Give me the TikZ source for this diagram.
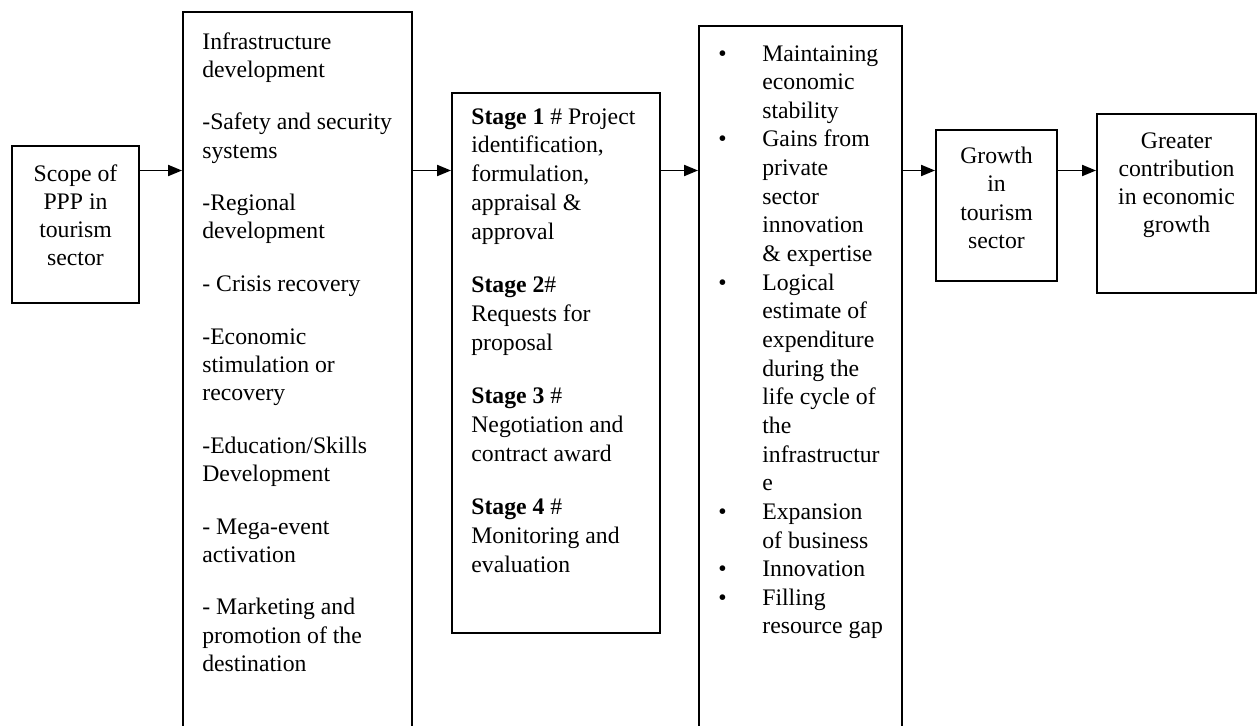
\documentclass[tikz,border=0pt]{standalone}
\usepackage{fontspec}
\setmainfont{Liberation Serif}
\usepackage{tikz}
\usetikzlibrary{arrows.meta}
\tikzstyle{frame}=[draw, line width=1.1pt, inner sep=0pt]
\tikzstyle{body}=[inner sep=0pt, font=\fontsize{13.5}{16}\selectfont, align=left]
\tikzstyle{cbody}=[body, align=center]
\tikzstyle{flow}=[line width=1.1pt, -{Triangle[length=0.28cm, width=0.22cm]}]
\newcommand{\blt}{\llap{\textbullet\hspace{0.715cm}}}

\begin{document}
\begin{tikzpicture}
        \useasboundingbox (0, 0) rectangle (25.2, -14.52);
        \clip (0, 0) rectangle (25.2, -14.52);
        \coordinate (lvl) at (0, -3.41);
        % boxes
        \node[frame, minimum width=2.54cm, minimum height=3.14cm] (scope) at (1.51, -4.49) {};
        \node[frame, minimum width=4.58cm, minimum height=14.96cm] (infra) at (5.95, -7.72) {};
        \node[frame, minimum width=4.16cm, minimum height=10.8cm] (stages) at (11.12, -7.26) {};
        \node[frame, minimum width=4.06cm, minimum height=14.68cm] (gains) at (16.01, -7.86) {};
        \node[frame, minimum width=2.42cm, minimum height=3.02cm] (growth) at (19.93, -4.11) {};
        \node[frame, minimum width=3.18cm, minimum height=3.58cm] (contrib) at (23.53, -4.07) {};
        % texts
        \node[cbody, anchor=north] (scopetxt) at (1.51, -3.28)
            {Scope of\\PPP in\\tourism\\sector};
        \node[body, anchor=north west] (infratxt) at (4.04, -0.64)
            {Infrastructure\\development\\[14pt]
             -Safety and security\\systems\\[14pt]
             -Regional\\development\\[14pt]
             - Crisis recovery\\[14pt]
             -Economic\\stimulation or\\recovery\\[14pt]
             -Education/Skills\\Development\\[14pt]
             - Mega-event\\activation\\[14pt]
             - Marketing and\\promotion of the\\destination};
        \node[body, anchor=north west, font=\fontsize{13.5}{16.4}\selectfont] (stagestxt) at (9.42, -2.16)
            {\textbf{Stage 1} \# Project\\identification,\\formulation,\\appraisal \&\\approval\\[14pt]
             \textbf{Stage 2}\#\\Requests for\\proposal\\[14pt]
             \textbf{Stage 3} \#\\Negotiation and\\contract award\\[14pt]
             \textbf{Stage 4} \#\\Monitoring and\\evaluation};
        \node[body, anchor=north west, font=\fontsize{13.5}{16.3}\selectfont] (gainstxt) at (15.24, -0.9)
            {\blt Maintaining\\economic\\stability\\
             \blt Gains from\\private\\sector\\innovation\\\& expertise\\
             \blt Logical\\estimate of\\expenditure\\during the\\life cycle of\\the\\infrastructur\\e\\
             \blt Expansion\\of business\\
             \blt Innovation\\
             \blt Filling\\resource gap};
        \node[cbody, anchor=north] (growthtxt) at (19.93, -2.94)
            {Growth\\in\\tourism\\sector};
        \node[cbody, anchor=north] (contribtxt) at (23.53, -2.64)
            {Greater\\contribution\\in economic\\growth};
        % arrows
        \draw[flow] (scope.east |- lvl) -- (infra.west |- lvl);
        \draw[flow] (infra.east |- lvl) -- (stages.west |- lvl);
        \draw[flow] (stages.east |- lvl) -- (gains.west |- lvl);
        \draw[flow] (gains.east |- lvl) -- (growth.west |- lvl);
        \draw[flow] (growth.east |- lvl) -- (contrib.west |- lvl);
    \end{tikzpicture}
\end{document}
